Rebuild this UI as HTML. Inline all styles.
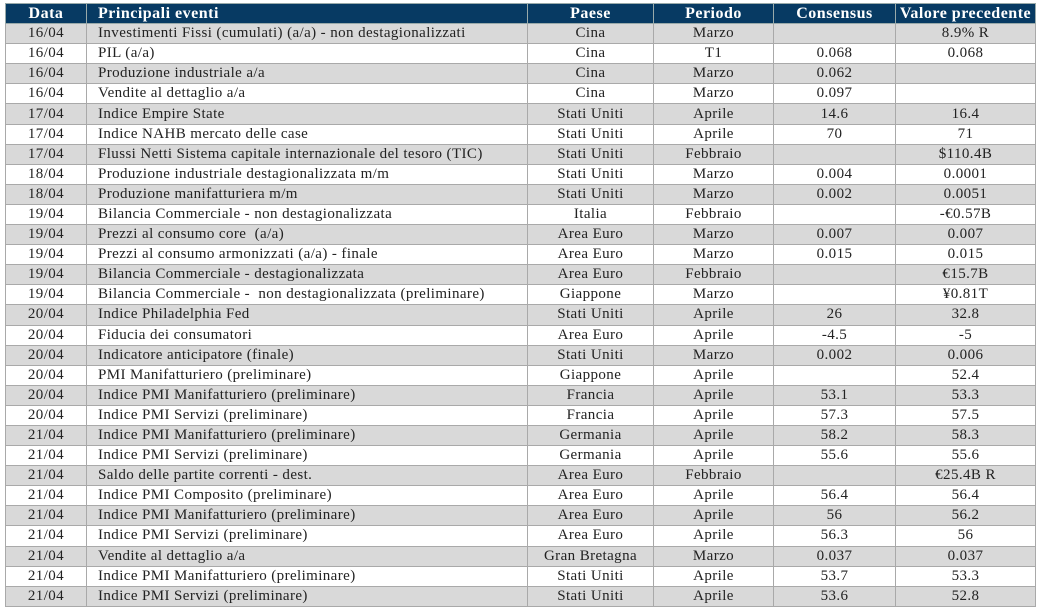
<!DOCTYPE html>
<html><head><meta charset="utf-8"><style>
body{margin:0;background:#fff;width:1041px;height:612px;overflow:hidden}
table{position:absolute;left:5px;top:3px;border-collapse:collapse;table-layout:fixed;width:1030px;font-family:"Liberation Serif",serif;font-size:15px;letter-spacing:0.4px;line-height:1;color:#222}
td,th{border:1.5px solid #a9a9a9;padding:0;height:19.1px;text-align:center;white-space:nowrap;overflow:hidden}
th{background:#073a63;color:#fff;font-weight:bold;font-size:16px;letter-spacing:0.5px;border-color:#9aa}
td.e,th.e{text-align:left;padding-left:11px}
tr:nth-child(even) td{background:#d9d9d9}
tr:nth-child(odd) td{background:#fff}
</style></head><body>
<table>
<colgroup><col style="width:81px"><col style="width:441px"><col style="width:126px"><col style="width:120px"><col style="width:122px"><col style="width:140px"></colgroup>
<tr><th>Data</th><th class="e">Principali eventi</th><th>Paese</th><th>Periodo</th><th>Consensus</th><th>Valore precedente</th></tr>
<tr><td>16/04</td><td class="e">Investimenti Fissi (cumulati) (a/a) - non destagionalizzati</td><td>Cina</td><td>Marzo</td><td></td><td>8.9% R</td></tr>
<tr><td>16/04</td><td class="e">PIL (a/a)</td><td>Cina</td><td>T1</td><td>0.068</td><td>0.068</td></tr>
<tr><td>16/04</td><td class="e">Produzione industriale a/a</td><td>Cina</td><td>Marzo</td><td>0.062</td><td></td></tr>
<tr><td>16/04</td><td class="e">Vendite al dettaglio a/a</td><td>Cina</td><td>Marzo</td><td>0.097</td><td></td></tr>
<tr><td>17/04</td><td class="e">Indice Empire State</td><td>Stati Uniti</td><td>Aprile</td><td>14.6</td><td>16.4</td></tr>
<tr><td>17/04</td><td class="e">Indice NAHB mercato delle case</td><td>Stati Uniti</td><td>Aprile</td><td>70</td><td>71</td></tr>
<tr><td>17/04</td><td class="e">Flussi Netti Sistema capitale internazionale del tesoro (TIC)</td><td>Stati Uniti</td><td>Febbraio</td><td></td><td>$110.4B</td></tr>
<tr><td>18/04</td><td class="e">Produzione industriale destagionalizzata m/m</td><td>Stati Uniti</td><td>Marzo</td><td>0.004</td><td>0.0001</td></tr>
<tr><td>18/04</td><td class="e">Produzione manifatturiera m/m</td><td>Stati Uniti</td><td>Marzo</td><td>0.002</td><td>0.0051</td></tr>
<tr><td>19/04</td><td class="e">Bilancia Commerciale - non destagionalizzata</td><td>Italia</td><td>Febbraio</td><td></td><td>-€0.57B</td></tr>
<tr><td>19/04</td><td class="e">Prezzi al consumo core &nbsp;(a/a)</td><td>Area Euro</td><td>Marzo</td><td>0.007</td><td>0.007</td></tr>
<tr><td>19/04</td><td class="e">Prezzi al consumo armonizzati (a/a) - finale</td><td>Area Euro</td><td>Marzo</td><td>0.015</td><td>0.015</td></tr>
<tr><td>19/04</td><td class="e">Bilancia Commerciale - destagionalizzata</td><td>Area Euro</td><td>Febbraio</td><td></td><td>€15.7B</td></tr>
<tr><td>19/04</td><td class="e">Bilancia Commerciale - &nbsp;non destagionalizzata (preliminare)</td><td>Giappone</td><td>Marzo</td><td></td><td>¥0.81T</td></tr>
<tr><td>20/04</td><td class="e">Indice Philadelphia Fed</td><td>Stati Uniti</td><td>Aprile</td><td>26</td><td>32.8</td></tr>
<tr><td>20/04</td><td class="e">Fiducia dei consumatori</td><td>Area Euro</td><td>Aprile</td><td>-4.5</td><td>-5</td></tr>
<tr><td>20/04</td><td class="e">Indicatore anticipatore (finale)</td><td>Stati Uniti</td><td>Marzo</td><td>0.002</td><td>0.006</td></tr>
<tr><td>20/04</td><td class="e">PMI Manifatturiero (preliminare)</td><td>Giappone</td><td>Aprile</td><td></td><td>52.4</td></tr>
<tr><td>20/04</td><td class="e">Indice PMI Manifatturiero (preliminare)</td><td>Francia</td><td>Aprile</td><td>53.1</td><td>53.3</td></tr>
<tr><td>20/04</td><td class="e">Indice PMI Servizi (preliminare)</td><td>Francia</td><td>Aprile</td><td>57.3</td><td>57.5</td></tr>
<tr><td>21/04</td><td class="e">Indice PMI Manifatturiero (preliminare)</td><td>Germania</td><td>Aprile</td><td>58.2</td><td>58.3</td></tr>
<tr><td>21/04</td><td class="e">Indice PMI Servizi (preliminare)</td><td>Germania</td><td>Aprile</td><td>55.6</td><td>55.6</td></tr>
<tr><td>21/04</td><td class="e">Saldo delle partite correnti - dest.</td><td>Area Euro</td><td>Febbraio</td><td></td><td>€25.4B R</td></tr>
<tr><td>21/04</td><td class="e">Indice PMI Composito (preliminare)</td><td>Area Euro</td><td>Aprile</td><td>56.4</td><td>56.4</td></tr>
<tr><td>21/04</td><td class="e">Indice PMI Manifatturiero (preliminare)</td><td>Area Euro</td><td>Aprile</td><td>56</td><td>56.2</td></tr>
<tr><td>21/04</td><td class="e">Indice PMI Servizi (preliminare)</td><td>Area Euro</td><td>Aprile</td><td>56.3</td><td>56</td></tr>
<tr><td>21/04</td><td class="e">Vendite al dettaglio a/a</td><td>Gran Bretagna</td><td>Marzo</td><td>0.037</td><td>0.037</td></tr>
<tr><td>21/04</td><td class="e">Indice PMI Manifatturiero (preliminare)</td><td>Stati Uniti</td><td>Aprile</td><td>53.7</td><td>53.3</td></tr>
<tr><td>21/04</td><td class="e">Indice PMI Servizi (preliminare)</td><td>Stati Uniti</td><td>Aprile</td><td>53.6</td><td>52.8</td></tr>
</table>
</body></html>
